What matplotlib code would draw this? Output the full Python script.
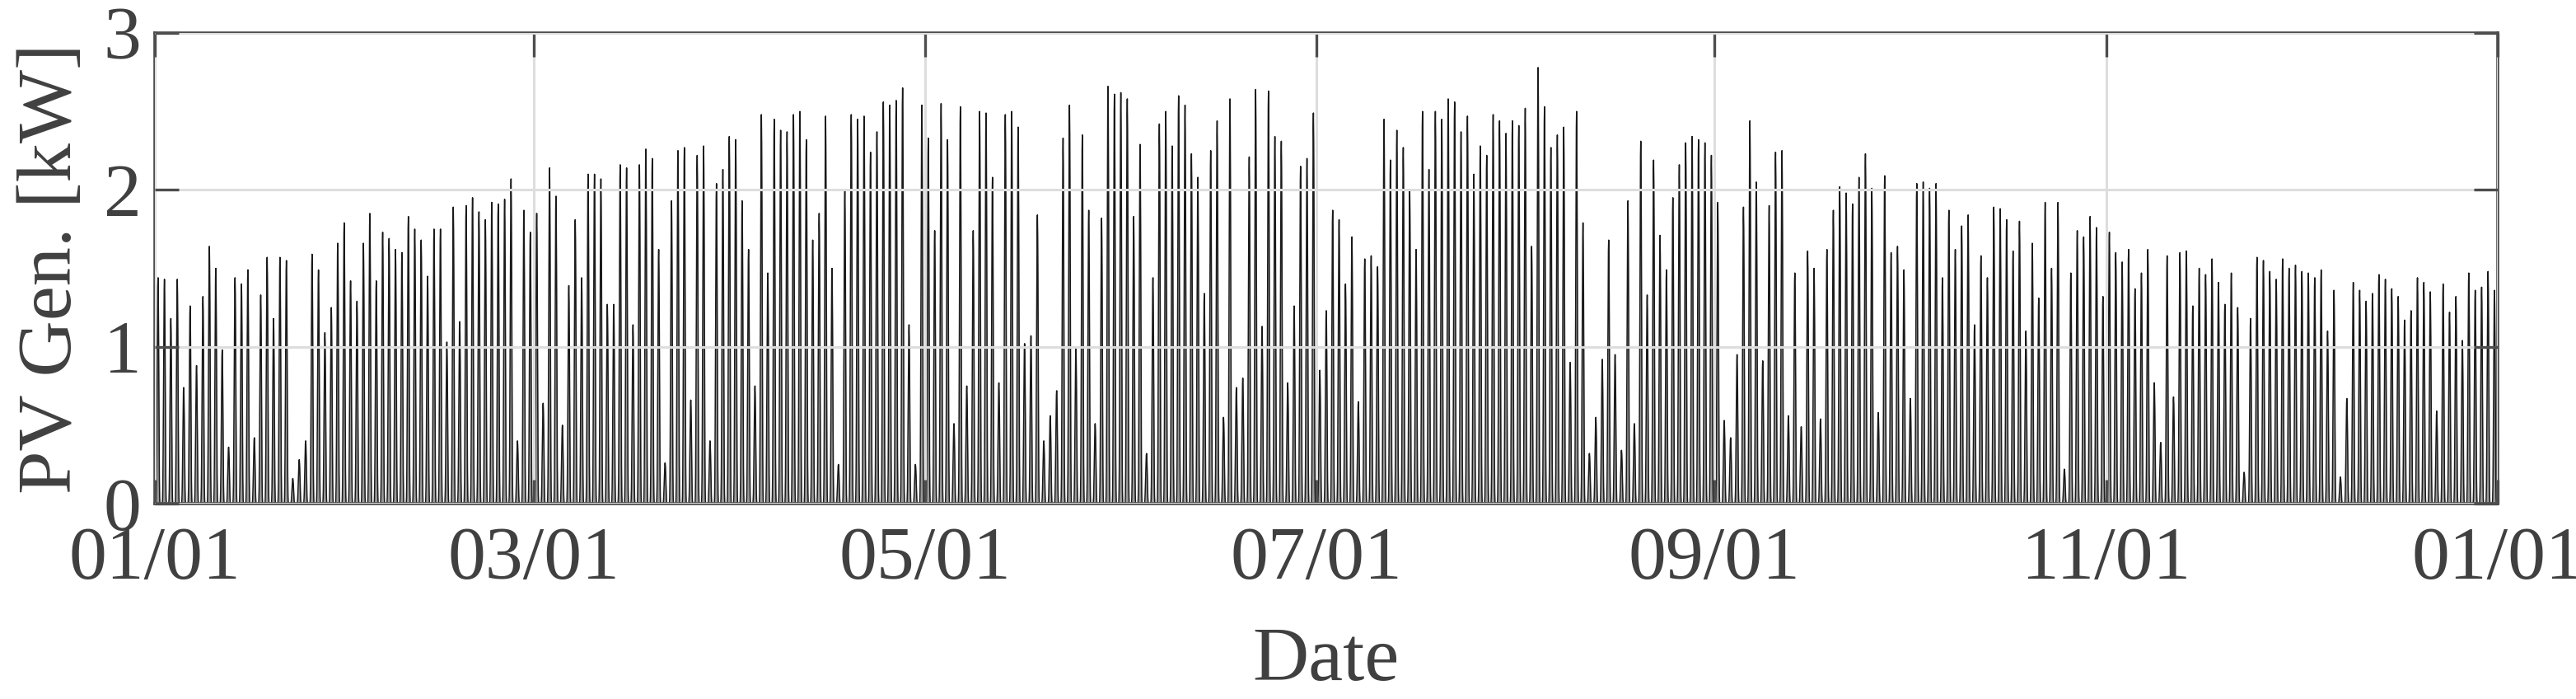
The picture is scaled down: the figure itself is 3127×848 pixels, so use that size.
import numpy as np
import matplotlib
matplotlib.use("Agg")
import matplotlib.pyplot as plt

# daily peak PV generation [kW] (365 days)
daily_peak = [
    1.44, 1.43, 1.18, 1.43, 0.74, 1.26, 0.88, 1.32, 1.64, 1.50, 0.98, 0.36, 1.44, 1.40, 1.49, 0.42,
    1.33, 1.57, 1.18, 1.57, 1.55, 0.16, 0.28, 0.40, 1.59, 1.49, 1.09, 1.25, 1.66, 1.79, 1.42,
    1.29, 1.66, 1.85, 1.42, 1.73, 1.69, 1.62, 1.60, 1.83, 1.75, 1.68, 1.45, 1.75, 1.75, 1.03,
    1.89, 1.16, 1.90, 1.95, 1.86, 1.81, 1.92, 1.91, 1.94, 2.07, 0.40, 1.87, 1.73, 1.85, 0.64,
    2.14, 1.96, 0.50, 1.39, 1.81, 1.44, 2.10, 2.10, 2.07, 1.27, 1.27, 2.16, 2.14, 1.14, 2.16, 2.26,
    2.20, 1.62, 0.26, 1.93, 2.25, 2.27, 0.66, 2.22, 2.28, 0.40, 2.04, 2.13, 2.34, 2.32, 1.93,
    1.62, 0.75, 2.48, 1.47, 2.45, 2.38, 2.37, 2.48, 2.50, 2.32, 1.68, 1.85, 2.47, 1.50, 0.25, 2.00,
    2.48, 2.45, 2.47, 2.24, 2.37, 2.56, 2.54, 2.57, 2.65, 1.14, 0.25, 2.54, 2.33, 1.74, 2.55,
    2.32, 0.51, 2.53, 0.75, 1.74, 2.50, 2.49, 2.08, 0.77, 2.48, 2.50, 2.40, 1.02, 1.07, 1.84, 0.40,
    0.56, 0.72, 2.33, 2.54, 0.99, 2.35, 1.87, 0.51, 1.82, 2.66, 2.61, 2.62, 2.58, 1.83, 2.29,
    0.32, 1.44, 2.42, 2.50, 2.28, 2.60, 2.54, 2.23, 2.08, 1.34, 2.25, 2.44, 0.55, 2.58, 0.74, 0.80,
    2.21, 2.64, 1.13, 2.63, 2.34, 2.31, 0.77, 1.26, 2.15, 2.20, 2.49, 0.85, 1.23, 1.87, 1.81,
    1.40, 1.70, 0.65, 1.56, 1.58, 1.51, 2.45, 2.19, 2.38, 2.27, 2.00, 1.62, 2.50, 2.13, 2.50,
    2.45, 2.58, 2.56, 2.37, 2.47, 2.10, 2.28, 2.22, 2.48, 2.44, 2.36, 2.44, 2.41, 2.52, 1.64,
    2.78, 2.53, 2.27, 2.35, 2.40, 0.90, 2.50, 1.79, 0.32, 0.55, 0.92, 1.68, 0.95, 0.34, 1.93, 0.51,
    2.31, 1.33, 2.19, 1.71, 1.49, 1.95, 2.16, 2.30, 2.34, 2.32, 2.30, 2.22, 1.92, 0.53, 0.42,
    0.95, 1.89, 2.44, 2.05, 0.91, 1.90, 2.24, 2.25, 0.56, 1.47, 0.49, 1.61, 1.50, 0.54, 1.62, 1.87,
    2.02, 1.98, 1.91, 2.08, 2.23, 2.01, 0.58, 2.09, 1.60, 1.64, 1.49, 0.67, 2.04, 2.05, 2.01,
    2.04, 1.44, 1.87, 1.62, 1.77, 1.84, 1.14, 1.58, 1.44, 1.89, 1.88, 1.81, 1.61, 1.80, 1.10, 1.66,
    1.31, 1.92, 1.50, 1.92, 0.22, 1.47, 1.74, 1.70, 1.83, 1.76, 1.32, 1.73, 1.60, 1.54, 1.62,
    1.37, 1.47, 1.62, 0.77, 0.39, 1.58, 0.68, 1.60, 1.61, 1.26, 1.50, 1.46, 1.56, 1.41, 1.27,
    1.47, 1.25, 0.20, 1.18, 1.57, 1.55, 1.48, 1.43, 1.56, 1.50, 1.52, 1.48, 1.47, 1.44, 1.49,
    1.10, 1.36, 0.17, 0.67, 1.41, 1.36, 1.29, 1.34, 1.46, 1.43, 1.37, 1.32, 1.17, 1.23, 1.44,
    1.41, 1.35, 0.59, 1.40, 1.22, 1.32, 1.04, 1.47, 1.36, 1.38, 1.48, 1.36,
]

# typical hourly shape of a day, as a fraction of the daily peak
hourly_shape = [0, 0, 0, 0, 0, 0.02, 0.08, 0.22, 0.42, 0.65, 0.85, 0.96,
                1.00, 0.93, 0.78, 0.56, 0.32, 0.12, 0.03, 0, 0, 0, 0, 0]

tick_days = [0, 59, 120, 181, 243, 304, 365]
tick_labels = ["01/01", "03/01", "05/01", "07/01", "09/01", "11/01", "01/01"]
y_ticks = [0, 1, 2, 3]

pv = np.outer(daily_peak, hourly_shape).ravel()
t = np.arange(len(pv)) / 24.0

plt.rcParams["font.family"] = ["Liberation Serif", "DejaVu Serif"]
text_color = "#404040"
axis_color = "#4d4d4d"

fig = plt.figure(figsize=(31.27, 8.48), dpi=100)
ax = fig.add_axes([0.0601, 0.2795, 0.9095, 0.6733])

ax.fill_between(t, pv, 0, color="#999999", linewidth=0, zorder=1)
ax.plot(t, pv, color="#1a1a1a", linewidth=1.1, zorder=2)

ax.set_xlim(0, 365)
ax.set_ylim(0, 3)
ax.set_xticks(tick_days)
ax.set_xticklabels(tick_labels)
ax.set_yticks(y_ticks)

ax.grid(True, color="#dddddd", linewidth=2.2)
ax.set_axisbelow(False)

for s in ax.spines.values():
    s.set_color(axis_color)
    s.set_linewidth(2.6)

ax.tick_params(axis="both", direction="in", length=21, width=2.4, color=axis_color,
               labelsize=66, labelcolor=text_color, pad=12,
               top=True, right=True)
ax.tick_params(axis="x", pad=20)

ax.set_xlabel("Date", fontsize=68, color=text_color, labelpad=28)
ax.set_ylabel("PV Gen. [kW]", fontsize=68, color=text_color, labelpad=14)

fig.savefig("out.png", dpi=100)
